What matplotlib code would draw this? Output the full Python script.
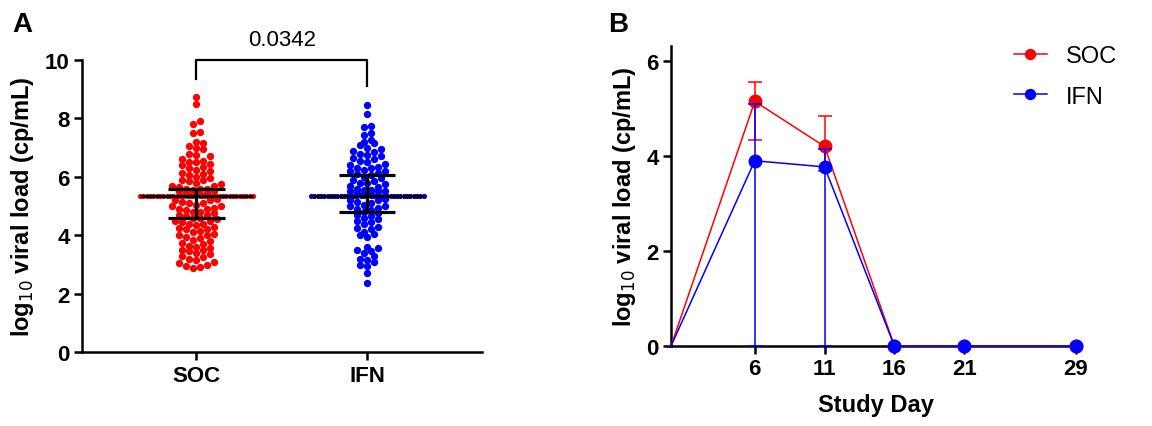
import numpy as np
import matplotlib.pyplot as plt
from collections import Counter

plt.rcParams['font.family'] = ['Liberation Sans', 'DejaVu Sans']

# ---- Panel A: individual viral loads (log10 cp/mL) ----
groups = ['SOC', 'IFN']
soc_vals = [8.75, 8.5, 7.9, 7.8, 7.55, 7.5, 7.2, 7.15, 7.05, 7.0, 6.95, 6.8, 6.75,
            6.7, 6.6, 6.55, 6.5, 6.5, 6.45, 6.4, 6.35, 6.3, 6.25, 6.2, 6.15, 6.1,
            6.05, 6.0, 5.95, 5.9, 5.9, 5.85, 5.8, 5.75, 5.7, 5.7, 5.65, 5.6, 5.6,
            5.58, 5.55, 5.5, 5.5, 5.45, 5.45, 5.4, 5.4] + [5.33] * 35 + \
           [5.25, 5.2, 5.2, 5.15, 5.1, 5.1, 5.05, 5.0, 5.0, 4.95, 4.9, 4.9, 4.85,
            4.8, 4.8, 4.75, 4.7, 4.7, 4.65, 4.6, 4.6, 4.55, 4.5, 4.5, 4.45, 4.4,
            4.4, 4.35, 4.3, 4.25, 4.2, 4.2, 4.15, 4.1, 4.05, 4.0, 4.0, 3.95, 3.9,
            3.85, 3.8, 3.75, 3.7, 3.65, 3.6, 3.55, 3.5, 3.5, 3.45, 3.4, 3.35, 3.3,
            3.25, 3.2, 3.15, 3.1, 3.05, 3.0, 2.95, 2.9, 2.88]
ifn_vals = [8.45, 8.15, 7.75, 7.7, 7.5, 7.45, 7.25, 7.2, 7.15, 7.1, 7.0, 6.95, 6.9,
            6.85, 6.8, 6.75, 6.7, 6.65, 6.6, 6.55, 6.5, 6.45, 6.4, 6.35, 6.3, 6.3,
            6.25, 6.2, 6.2, 6.15, 6.1, 6.05, 6.0, 5.95, 5.9, 5.85, 5.8, 5.8, 5.75,
            5.7, 5.65, 5.6, 5.55, 5.55, 5.5, 5.5, 5.5, 5.45, 5.4, 5.4] + [5.33] * 35 + \
           [5.25, 5.2, 5.2, 5.15, 5.1, 5.05, 5.0, 5.0, 4.95, 4.9, 4.85, 4.8, 4.75,
            4.7, 4.65, 4.6, 4.55, 4.5, 4.45, 4.4, 4.3, 4.25, 4.2, 4.1, 4.05, 4.0,
            3.95, 3.6, 3.55, 3.5, 3.45, 3.4, 3.3, 3.2, 3.15, 3.1, 3.0, 2.95, 2.7,
            2.38]
# median, 25th and 75th percentile
soc_stats = [5.33, 4.6, 5.6]
ifn_stats = [5.33, 4.8, 6.05]
p_value = '0.0342'

# ---- Panel B: mean viral load by study day ----
days = [0, 6, 11, 16, 21, 29]
soc_mean = [0, 5.15, 4.2, 0, 0, 0]
ifn_mean = [0, 3.9, 3.77, 0, 0, 0]
soc_err_lo = [0, 0.82, 0.52, 0, 0, 0]
soc_err_hi = [0, 0.41, 0.65, 0, 0, 0]
ifn_err_lo = [0, 3.9, 3.77, 0, 0, 0]
ifn_err_hi = [0, 1.2, 0.38, 0, 0, 0]

RED = '#ff0000'
BLUE = '#0000ff'


def swarm_x(vals, center, row_h=0.24, dx=0.041, max_half=0.33):
    # simple row-based swarm, rows get squeezed if too wide
    vals = np.asarray(vals, dtype=float)
    xs = np.zeros(len(vals))
    tie = np.zeros(len(vals), dtype=bool)
    cnt = Counter(vals.tolist())
    rows = {}
    for i, v in enumerate(vals):
        if cnt[v] > 5:
            key = ('tie', v)
            tie[i] = True
        else:
            key = ('bin', int(np.floor(v / row_h)))
        rows.setdefault(key, []).append(i)
    for key, idx in rows.items():
        n = len(idx)
        step = dx if n == 1 else min(dx, 2 * max_half / (n - 1))
        offs = (np.arange(n) - (n - 1) / 2) * step
        order = sorted(idx, key=lambda j: vals[j])
        slots = sorted(range(n), key=lambda k: abs(offs[k]))
        for j, s in zip(order, slots):
            xs[j] = center + offs[s]
    return xs, tie


fig = plt.figure(figsize=(11.52, 4.27), dpi=100)

# ================= Panel A =================
axA = fig.add_axes([0.0712, 0.173, 0.347, 0.684])
for k, (vals, col, st) in enumerate([(soc_vals, RED, soc_stats), (ifn_vals, BLUE, ifn_stats)]):
    xs, tie = swarm_x(vals, k)
    vals = np.asarray(vals)
    axA.scatter(xs[~tie], vals[~tie], s=28, color=col, linewidths=0, zorder=2)
    axA.scatter(xs[tie], vals[tie], s=14, color=col, linewidths=0, zorder=2)
    med, q1, q3 = st
    axA.plot([k - 0.33, k + 0.33], [med, med], color='black', lw=2.3, zorder=3,
             solid_capstyle='butt')
    axA.plot([k, k], [q1, q3], color='black', lw=2.3, zorder=3)
    axA.plot([k - 0.165, k + 0.165], [q1, q1], color='black', lw=2.3, zorder=3,
             solid_capstyle='butt')
    axA.plot([k - 0.165, k + 0.165], [q3, q3], color='black', lw=2.3, zorder=3,
             solid_capstyle='butt')

# significance bracket
axA.plot([0, 0, 1, 1], [9.35, 10.0, 10.0, 9.1], color='black', lw=1.6, clip_on=False)
axA.text(0.5, 10.7, p_value, ha='center', va='center', fontsize=16)

axA.set_xlim(-0.67, 1.67)
axA.set_ylim(0, 10)
axA.set_xticks([0, 1])
axA.set_xticklabels(groups)
axA.set_yticks([0, 2, 4, 6, 8, 10])
axA.set_ylabel('log$_{10}$ viral load (cp/mL)', fontsize=17, fontweight='bold',
               labelpad=6)

# ================= Panel B =================
axB = fig.add_axes([0.5825, 0.1874, 0.355, 0.703])
axB.errorbar(days[1:3], soc_mean[1:3], yerr=[soc_err_lo[1:3], soc_err_hi[1:3]],
             fmt='none', ecolor=RED, elinewidth=1.1, capsize=4.7, capthick=1.1,
             zorder=2, clip_on=False)
axB.plot(days, soc_mean, color=RED, lw=1.1, marker='o', ms=9,
         markevery=list(range(1, len(days))), label='SOC', zorder=3, clip_on=False)
axB.errorbar(days[1:3], ifn_mean[1:3], yerr=[ifn_err_lo[1:3], ifn_err_hi[1:3]],
             fmt='none', ecolor=BLUE, elinewidth=1.1, capsize=4.7, capthick=1.1,
             zorder=4, clip_on=False)
axB.plot(days, ifn_mean, color=BLUE, lw=1.1, marker='o', ms=9,
         markevery=list(range(1, len(days))), label='IFN', zorder=5, clip_on=False)

axB.set_xlim(0, 29.3)
axB.set_ylim(0, 6.32)
axB.set_xticks(days[1:])
axB.set_yticks([0, 2, 4, 6])
axB.set_xlabel('Study Day', fontsize=17, fontweight='bold', labelpad=10)
axB.set_ylabel('log$_{10}$ viral load (cp/mL)', fontsize=17, fontweight='bold',
               labelpad=6)
axB.legend(loc='upper left', bbox_to_anchor=(0.880, 0.892),
           bbox_transform=fig.transFigure, frameon=False, fontsize=17,
           labelspacing=0.78, handlelength=1.4, handletextpad=0.8,
           borderpad=0, borderaxespad=0, markerscale=0.8)

for ax in (axA, axB):
    ax.spines['top'].set_visible(False)
    ax.spines['right'].set_visible(False)
    ax.spines['left'].set_linewidth(1.8)
    ax.spines['bottom'].set_linewidth(1.8)
    ax.tick_params(width=1.8, length=6, labelsize=16, pad=3)
    for lab in ax.get_xticklabels() + ax.get_yticklabels():
        lab.set_fontweight('bold')

fig.text(0.011, 0.925, 'A', fontsize=20, fontweight='bold')
fig.text(0.528, 0.925, 'B', fontsize=20, fontweight='bold')

fig.savefig('out.png', dpi=100)
